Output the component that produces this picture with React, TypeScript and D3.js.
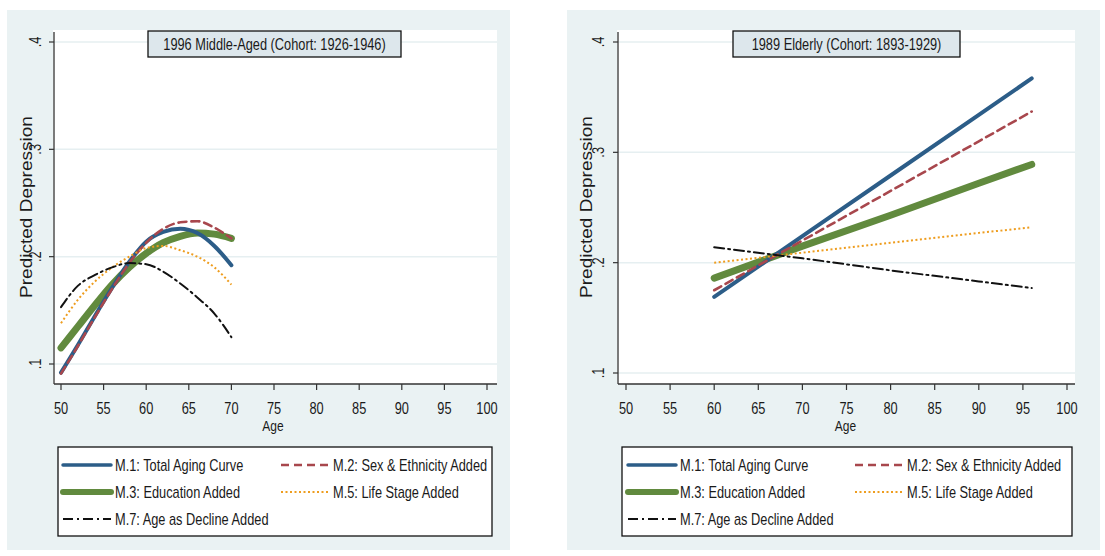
import React from "react";
import * as d3 from "d3";

// ---------- data ----------
const xTicks = [50, 55, 60, 65, 70, 75, 80, 85, 90, 95, 100];
const yTicks = [0.1, 0.2, 0.3, 0.4];
const yTickLabels = [".1", ".2", ".3", ".4"];

const seriesNames = [
  "M.1: Total Aging Curve",
  "M.2: Sex & Ethnicity Added",
  "M.3: Education Added",
  "M.5: Life Stage Added",
  "M.7: Age as Decline Added",
];

// Left panel: 1996 Middle-Aged
const midAges = [50, 52, 54, 56, 58, 60, 62, 64, 66, 68, 70];
const midM1 = [0.092, 0.118, 0.145, 0.171, 0.195, 0.214, 0.223, 0.226, 0.222, 0.21, 0.192];
const midM2 = [0.091, 0.117, 0.144, 0.17, 0.194, 0.213, 0.226, 0.232, 0.233, 0.227, 0.217];
const midM3 = [0.115, 0.135, 0.155, 0.174, 0.19, 0.203, 0.213, 0.219, 0.222, 0.221, 0.217];
const midM5 = [0.138, 0.16, 0.177, 0.19, 0.2, 0.208, 0.21, 0.206, 0.2, 0.19, 0.174];
const midM7 = [0.153, 0.173, 0.183, 0.19, 0.194, 0.193, 0.186, 0.175, 0.162, 0.147, 0.125];

// Right panel: 1989 Elderly
const oldAges = [60, 70, 80, 90, 96];
const oldM1 = [0.169, 0.224, 0.279, 0.334, 0.367];
const oldM2 = [0.175, 0.22, 0.265, 0.31, 0.337];
const oldM3 = [0.186, 0.215, 0.243, 0.272, 0.289];
const oldM5 = [0.2, 0.209, 0.218, 0.227, 0.232];
const oldM7 = [0.214, 0.204, 0.193, 0.183, 0.177];

// ---------- styles ----------
const styles = [
  { color: "#2c5d88", width: 4, dash: "" },
  { color: "#a8474d", width: 2.6, dash: "8,5" },
  { color: "#618a3e", width: 7, dash: "" },
  { color: "#ee9d1f", width: 2, dash: "2,2.5" },
  { color: "#111111", width: 2, dash: "10,4,2,4" },
];

const FONT = "'Liberation Sans', Arial, sans-serif";
const NARROW = 0.8;

function NText(props: {
  x: number;
  y: number;
  size: number;
  anchor?: string;
  rotate?: number;
  sx?: number;
  children: React.ReactNode;
}) {
  const sx = props.sx ?? NARROW;
  return (
    <text
      transform={`translate(${props.x},${props.y}) rotate(${props.rotate ?? 0}) scale(${sx},1)`}
      textAnchor={props.anchor ?? "start"}
      fontSize={props.size}
      fontFamily={FONT}
      fill="#1a1a1a"
    >
      {props.children}
    </text>
  );
}

type PanelProps = {
  ox: number;
  outerW: number;
  plotL: number;
  plotR: number;
  xRange: [number, number];
  yRange: [number, number];
  title: string;
  titleBox: [number, number];
  ages: number[];
  series: number[][];
  curve: d3.CurveFactory;
  legend: { x0: number; x1: number; col1: number; col2: number };
  tickOff: number;
};

function Panel(p: PanelProps) {
  const x = d3.scaleLinear().domain([50, 100]).range(p.xRange);
  const y = d3.scaleLinear().domain([0.1, 0.4]).range(p.yRange);
  const top = 30;
  const bottom = 384;
  const axisX = p.plotL + 1;
  const order = [2, 0, 1, 3, 4];
  const rows = [465, 492, 519];
  const legendPos = [
    [p.legend.col1, rows[0]],
    [p.legend.col2, rows[0]],
    [p.legend.col1, rows[1]],
    [p.legend.col2, rows[1]],
    [p.legend.col1, rows[2]],
  ];
  return (
    <g>
      <rect x={p.ox} y={10} width={p.outerW} height={540} fill="#eaf2f3" />
      <rect x={p.plotL} y={top} width={p.plotR - p.plotL} height={bottom - top} fill="#ffffff" />
      {yTicks.map((t) => (
        <line key={"g" + t} x1={axisX} x2={p.plotR} y1={y(t)} y2={y(t)} stroke="#e6eff1" strokeWidth={1.5} />
      ))}
      {/* axes */}
      <line x1={axisX} x2={axisX} y1={32} y2={bottom} stroke="#333" strokeWidth={1.3} />
      <line x1={axisX} x2={p.plotR} y1={bottom} y2={bottom} stroke="#333" strokeWidth={1.3} />
      {yTicks.map((t, i) => (
        <g key={"yt" + t}>
          <line x1={axisX - 5} x2={axisX} y1={y(t)} y2={y(t)} stroke="#333" strokeWidth={1.2} />
          <NText x={axisX - p.tickOff} y={y(t)} size={16} anchor="middle" rotate={-90}>
            {yTickLabels[i]}
          </NText>
        </g>
      ))}
      {xTicks.map((t) => (
        <g key={"xt" + t}>
          <line x1={x(t)} x2={x(t)} y1={bottom} y2={bottom + 6} stroke="#333" strokeWidth={1.2} />
          <NText x={x(t)} y={bottom + 30} size={16} anchor="middle">
            {t}
          </NText>
        </g>
      ))}
      <NText x={(x(50) + x(100)) / 2 - 1} y={431} size={15} anchor="middle">
        Age
      </NText>
      <NText x={p.ox + 25} y={207} size={17} anchor="middle" rotate={-90} sx={1.12}>
        Predicted Depression
      </NText>
      {/* title box */}
      <rect
        x={p.titleBox[0]}
        y={31}
        width={p.titleBox[1] - p.titleBox[0]}
        height={26}
        fill="#dde7ec"
        stroke="#111"
        strokeWidth={1.3}
      />
      <NText x={(p.titleBox[0] + p.titleBox[1]) / 2} y={50} size={16} anchor="middle">
        {p.title}
      </NText>
      {/* series */}
      {order.map((si) => {
        const line = d3
          .line<number>()
          .x((_, i) => x(p.ages[i]))
          .y((v) => y(v))
          .curve(p.curve);
        const s = styles[si];
        return (
          <path
            key={"s" + si}
            d={line(p.series[si]) || ""}
            fill="none"
            stroke={s.color}
            strokeWidth={s.width}
            strokeDasharray={s.dash}
            strokeLinecap={si === 3 ? "butt" : "round"}
          />
        );
      })}
      {/* legend */}
      <rect
        x={p.legend.x0}
        y={447}
        width={p.legend.x1 - p.legend.x0}
        height={89}
        fill="#ffffff"
        stroke="#111"
        strokeWidth={1.3}
      />
      {seriesNames.map((name, i) => {
        const [lx, ly] = legendPos[i];
        const s = styles[i];
        return (
          <g key={"l" + i}>
            <line
              x1={lx}
              x2={lx + 48}
              y1={ly}
              y2={ly}
              stroke={s.color}
              strokeWidth={i === 2 ? 6 : s.width === 4 ? 3.5 : s.width}
              strokeDasharray={s.dash}
              strokeLinecap={i === 0 || i === 2 ? "round" : "butt"}
            />
            <NText x={lx + 52} y={ly + 6} size={16}>
              {name}
            </NText>
          </g>
        );
      })}
    </g>
  );
}

export default function App() {
  return (
    <svg width={1105} height={556} style={{ position: "absolute", left: 0, top: 0, background: "#fff" }}>
      <rect x={0} y={0} width={1105} height={556} fill="#ffffff" />
      <Panel
        ox={7}
        outerW={503}
        plotL={53}
        plotR={497}
        xRange={[61, 487]}
        yRange={[364, 42]}
        title="1996 Middle-Aged (Cohort: 1926-1946)"
        titleBox={[148, 401]}
        ages={midAges}
        series={[midM1, midM2, midM3, midM5, midM7]}
        curve={d3.curveMonotoneX}
        legend={{ x0: 58, x1: 492, col1: 63, col2: 281 }}
        tickOff={13}
      />
      <Panel
        ox={567}
        outerW={533}
        plotL={617}
        plotR={1075}
        xRange={[626, 1067]}
        yRange={[373, 42]}
        title="1989 Elderly (Cohort: 1893-1929)"
        titleBox={[733, 960]}
        ages={oldAges}
        series={[oldM1, oldM2, oldM3, oldM5, oldM7]}
        curve={d3.curveLinear}
        legend={{ x0: 622, x1: 1072, col1: 628, col2: 855 }}
        tickOff={14}
      />
    </svg>
  );
}
